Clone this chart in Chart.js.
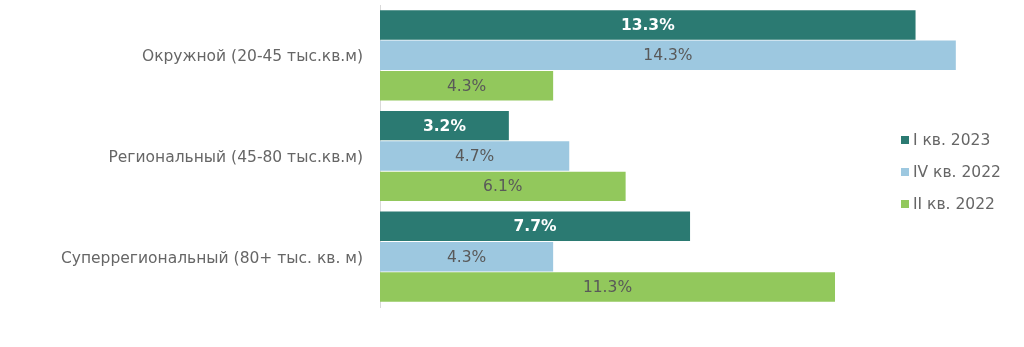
<!DOCTYPE html>
<html>
<head>
<meta charset="utf-8">
<script src="https://cdn.jsdelivr.net/npm/chart.js@4"></script>
<style>
    html, body { margin: 0; padding: 0; background: #fff; }
    #wrap { position: relative; width: 1024px; height: 347px; }
    #legenda { position: absolute; left: 901px; top: 130px; font: 15.5px "DejaVu Sans", Verdana, sans-serif; color: #666; }
    #legenda div { height: 32px; line-height: 20px; white-space: nowrap; }
    #legenda span { display: inline-block; width: 8px; height: 8px; margin-right: 4px; vertical-align: 1px; }
</style>
</head>
<body>
<div id="wrap">
    <canvas id="grafico" width="1024" height="347"></canvas>
    <div id="legenda"></div>
</div>
<script>
// Категории и значения (%)
const categorias = ['Окружной (20-45 тыс.кв.м)', 'Региональный (45-80 тыс.кв.м)', 'Суперрегиональный (80+ тыс. кв. м)'];
const series = ['I кв. 2023', 'IV кв. 2022', 'II кв. 2022'];
const valoresI2023 = [13.3, 3.2, 7.7];
const valoresIV2022 = [14.3, 4.7, 4.3];
const valoresII2022 = [4.3, 6.1, 11.3];
const cores = ['#2b7a72', '#9dc8e0', '#92c85c'];

const fonte = '"DejaVu Sans", Verdana, sans-serif';

// Escreve os valores dentro das barras
const rotulosPlugin = {
    id: 'rotulos',
    afterDatasetsDraw(chart) {
        const ctx = chart.ctx;
        ctx.save();
        ctx.textAlign = 'center';
        ctx.textBaseline = 'middle';
        chart.data.datasets.forEach((ds, i) => {
            chart.getDatasetMeta(i).data.forEach((bar, j) => {
                const x = (bar.x + bar.base) / 2;
                if (i === 0) {
                    ctx.font = 'bold 15.5px ' + fonte;
                    ctx.fillStyle = '#ffffff';
                } else {
                    ctx.font = '15.5px ' + fonte;
                    ctx.fillStyle = '#595959';
                }
                ctx.fillText(ds.data[j].toFixed(1) + '%', x, bar.y + 1);
            });
        });
        ctx.restore();
    }
};

const dados = [valoresI2023, valoresIV2022, valoresII2022];

new Chart(document.getElementById('grafico'), {
    type: 'bar',
    data: {
        labels: categorias,
        datasets: series.map((nome, i) => ({
            label: nome,
            data: dados[i],
            backgroundColor: cores[i],
            borderWidth: 0,
            categoryPercentage: 0.905,
            barPercentage: 0.97
        }))
    },
    options: {
        indexAxis: 'y',
        responsive: false,
        animation: false,
        layout: { padding: { top: 5, bottom: 40, right: 40, left: 0 } },
        plugins: {
            legend: { display: false },
            tooltip: { enabled: false }
        },
        scales: {
            x: {
                display: false,
                min: 0,
                max: 15
            },
            y: {
                afterFit: function (escala) {
                    escala.width = 380;
                    escala.paddingTop = 0;
                    escala.paddingBottom = 0;
                },
                grid: { display: false, drawTicks: false },
                border: { display: true, color: '#d9d9d9', width: 1 },
                ticks: { padding: 17, labelOffset: 2, color: '#666', font: { family: fonte, size: 15.5 } }
            }
        }
    },
    plugins: [rotulosPlugin]
});

// Legenda em HTML
const legenda = document.getElementById('legenda');
series.forEach((nome, i) => {
    legenda.insertAdjacentHTML('beforeend', `<div><span style="background:${cores[i]}"></span>${nome}</div>`);
});
</script>
</body>
</html>
